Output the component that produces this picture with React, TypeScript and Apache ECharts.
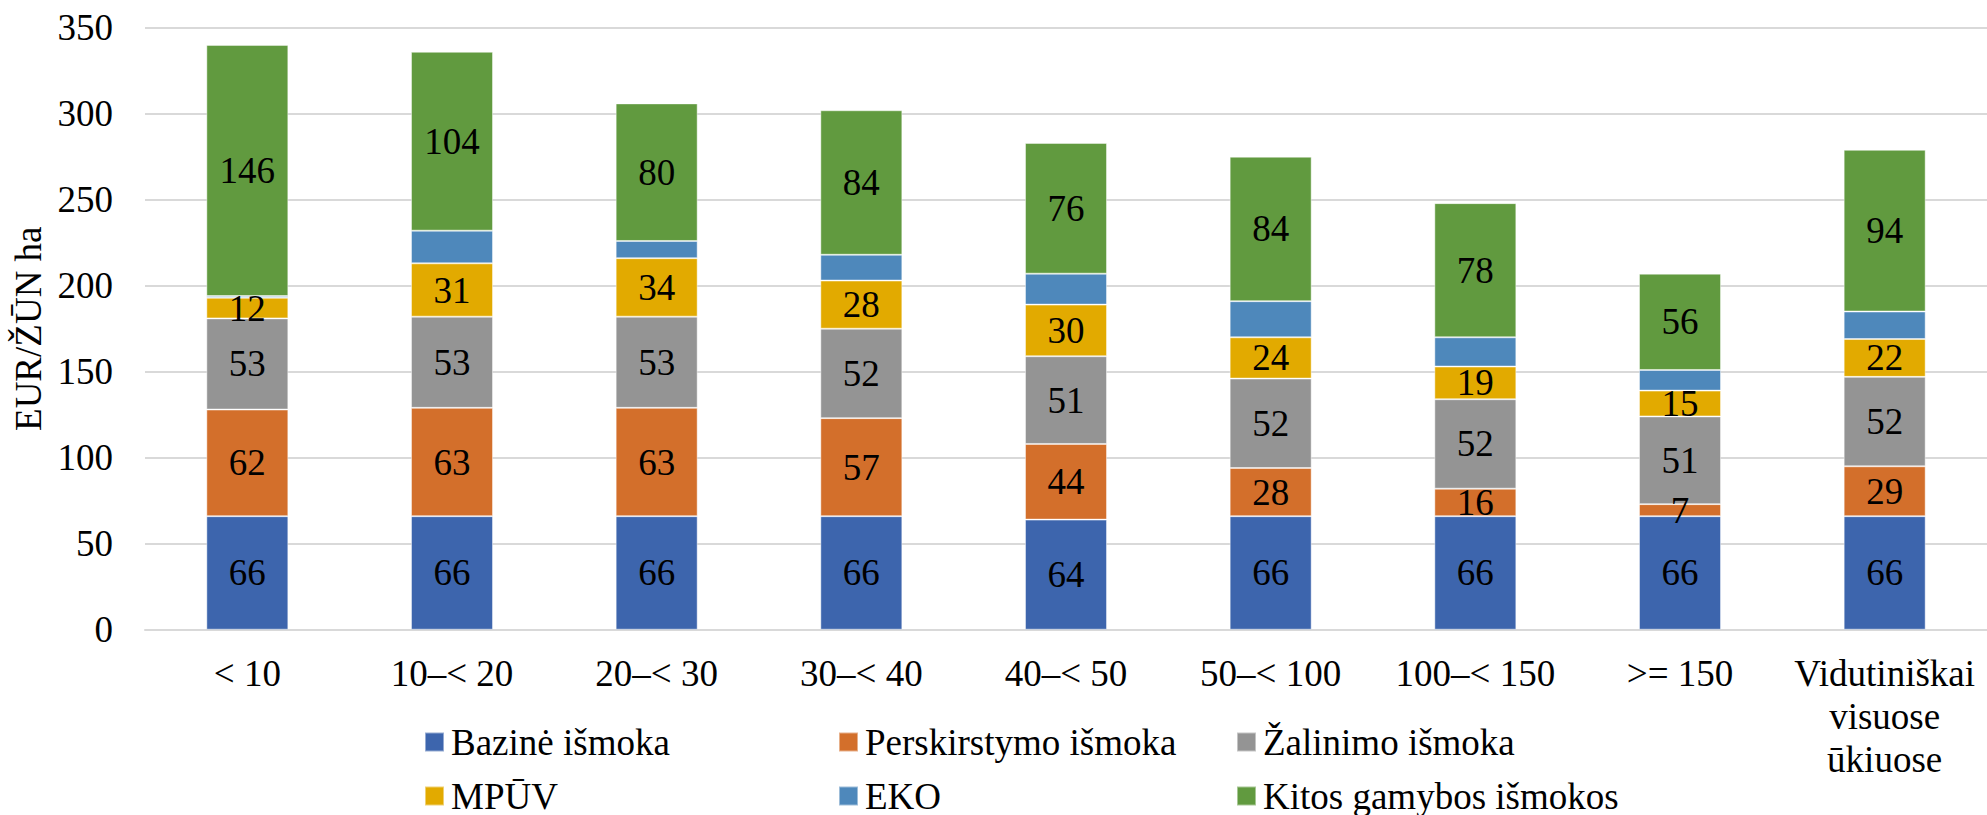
import React, { useEffect, useRef } from "react";
import * as echarts from "echarts";

const categories = ["< 10", "10–< 20", "20–< 30", "30–< 40", "40–< 50", "50–< 100", "100–< 150", ">= 150", "Vidutiniškai\nvisuose\nūkiuose"];
const bazine = [66, 66, 66, 66, 64, 66, 66, 66, 66];
const perskirstymo = [62, 63, 63, 57, 44, 28, 16, 7, 29];
const zalinimo = [53, 53, 53, 52, 51, 52, 52, 51, 52];
const mpuv = [12, 31, 34, 28, 30, 24, 19, 15, 22];
const eko = [1, 19, 10, 15, 18, 21, 17, 12, 16];
const kitos = [146, 104, 80, 84, 76, 84, 78, 56, 94];
const yTicks = { min: 0, max: 350, interval: 50 };

const seriesDefs = [
  { name: "Bazinė išmoka", data: bazine, color: "#3d65ad", label: true },
  { name: "Perskirstymo išmoka", data: perskirstymo, color: "#d36f2b", label: true },
  { name: "Žalinimo išmoka", data: zalinimo, color: "#949494", label: true },
  { name: "MPŪV", data: mpuv, color: "#e2aa00", label: true },
  { name: "EKO", data: eko, color: "#4e88bb", label: false },
  { name: "Kitos gamybos išmokos", data: kitos, color: "#619a3f", label: true },
];

const FONT = "Liberation Serif";

export default function App() {
  const ref = useRef<HTMLDivElement>(null);
  useEffect(() => {
    if (!ref.current) return;
    const chart = echarts.init(ref.current, undefined, { renderer: "svg" });
    const txt = { fontFamily: FONT, fontSize: 37, color: "#000" };
    const legendBase = {
      orient: "vertical",
      top: 722,
      height: 150,
      padding: 0,
      itemWidth: 19,
      itemHeight: 19,
      itemGap: 14,
      icon: "rect",
      textStyle: {
        color: "#000",
        fontSize: 37,
        fontFamily: "serif",
        lineHeight: 40,
        padding: [0, 0, 0, 2],
      },
    };
    chart.setOption({
      animation: false,
      textStyle: { fontFamily: FONT },
      grid: { left: 145, top: 27.7, width: 1847, height: 602 },
      legend: [
        { ...legendBase, left: 424, data: ["Bazinė išmoka", "MPŪV"] },
        { ...legendBase, left: 838, data: ["Perskirstymo išmoka", "EKO"] },
        { ...legendBase, left: 1236, data: ["Žalinimo išmoka", "Kitos gamybos išmokos"] },
      ],
      xAxis: {
        type: "category",
        data: categories,
        axisLine: { lineStyle: { color: "#d9d9d9", width: 2 } },
        axisTick: { show: false },
        axisLabel: { interval: 0, margin: 22, ...txt, lineHeight: 43 },
      },
      yAxis: {
        type: "value",
        min: yTicks.min,
        max: yTicks.max,
        interval: yTicks.interval,
        name: "EUR/ŽŪN ha",
        nameLocation: "middle",
        nameGap: 97,
        nameTextStyle: txt,
        axisLabel: { ...txt, margin: 32 },
        splitLine: { lineStyle: { color: "#d9d9d9", width: 2 } },
        axisLine: { show: false },
        axisTick: { show: false },
      },
      series: seriesDefs.map((s) => ({
        name: s.name,
        type: "bar",
        stack: "total",
        barWidth: 82,
        data: s.data,
        itemStyle: { color: s.color, borderColor: "rgba(255,255,255,0.45)", borderWidth: 1 },
        label: {
          show: s.label,
          position: "inside",
          color: "#000",
          fontSize: 37,
          fontFamily: "Times New Roman",
        },
        emphasis: { disabled: true },
      })),
    });
    return () => chart.dispose();
  }, []);
  return <div ref={ref} style={{ position: "fixed", left: 0, top: 0, width: 1987, height: 815, background: "#fff" }} />;
}
